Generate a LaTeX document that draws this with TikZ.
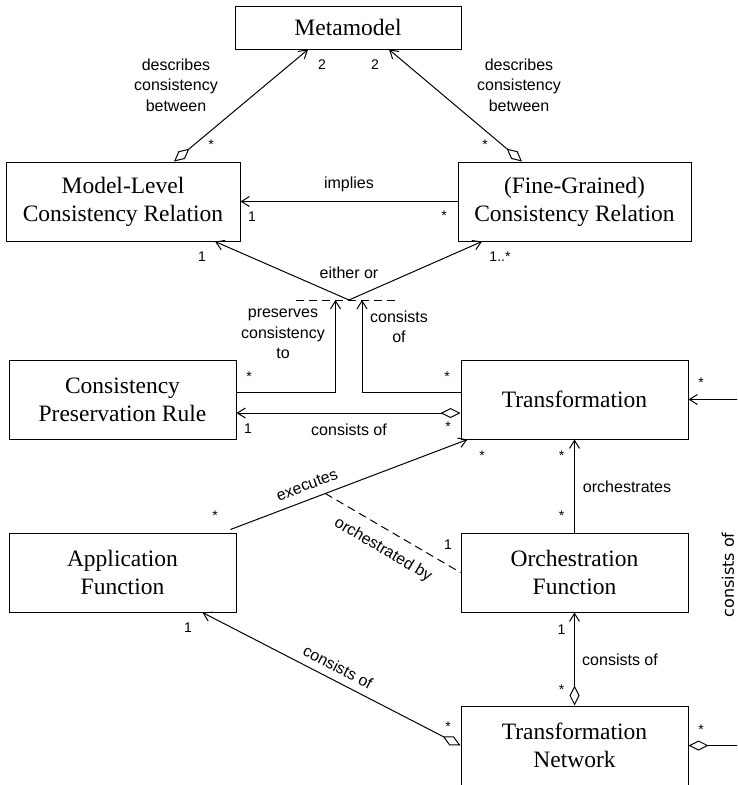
\documentclass[tikz,border=0pt]{standalone}
\usepackage{fontspec}
\newfontfamily\boxfont{Liberation Serif}
\newfontfamily\lblfont{Liberation Sans}
\newfontfamily\sidefont{DejaVu Sans}
\usetikzlibrary{arrows.meta,calc}

\begin{document}
\begin{tikzpicture}[x=1pt,y=-1pt,line width=1pt,
    box/.style={draw,align=center,inner sep=0pt,minimum width=227pt,
      minimum height=79pt,font=\boxfont\fontsize{23.5}{28}\selectfont},
    lbl/.style={align=center,inner sep=0pt,
      font=\lblfont\fontsize{16}{20.5}\selectfont},
    mult/.style={inner sep=0pt,font=\lblfont\fontsize{14}{14}\selectfont},
    star/.style={mult,yshift=-3pt},
    link/.style={-{Straight Barb[length=8pt,width=10pt]}},
    aggl/.style={{Diamond[open,length=20pt,width=10pt]}-{Straight Barb[length=8pt,width=10pt]}},
    orchline/.style={dash pattern=on 8pt off 5pt}]
  \clip (0,0) rectangle (737,785);
  \node[box,minimum width=226pt,minimum height=43pt] (meta) at (348,27.5) {Metamodel};
  \node[box,minimum width=234pt] (mlcr) at (123,201.5) {Model-Level\\Consistency Relation};
  \node[box,minimum width=233pt] (fgcr) at (574.5,201.5) {(Fine-Grained)\\Consistency Relation};
  \node[box] (cpr) at (122.5,399.5) {Consistency\\Preservation Rule};
  \node[box] (trafo) at (574.5,399.5) {Transformation};
  \node[box] (appf) at (122.5,572.5) {Application\\Function};
  \node[box] (orch) at (574.5,572.5) {Orchestration\\Function};
  \node[box] (tnet) at (574.5,745.5) {Transformation\\Network};
  % upper part
  \draw[aggl] ([xshift=51pt]mlcr.north) -- ([xshift=-40pt]meta.south);
  \draw[aggl] ([xshift=-52.5pt]fgcr.north) -- ([xshift=41pt]meta.south);
  \draw[link] (fgcr.west) -- (mlcr.east);
  \coordinate (either) at (349,300);
  \draw[link] (either) -- ([xshift=92pt]mlcr.south);
  \draw[link] (either) -- ([xshift=-92.5pt]fgcr.south);
  \draw[orchline] ($(either)+(-53,0)$) -- ($(either)+(50,0)$);
  \draw[link] ([yshift=7.5pt]cpr.east) -| ($(either)+(-13.5,0)$);
  \draw[link] ([yshift=7.5pt]trafo.west) -| ($(either)+(13,0)$);
  \draw[aggl] ([yshift=-13.5pt]trafo.west) -- ([yshift=-13.5pt]cpr.east);
  % lower part
  \coordinate (outer) at (760,0);
  \draw[aggl] (tnet.east) -- (tnet.east -| outer) -- (trafo.east -| outer) -- (trafo.east);
  \draw[link] ([xshift=-6pt,yshift=3pt]appf.north east) -- coordinate[pos=0.4] (orchpt)
    ([xshift=7pt]trafo.south west);
  \draw[orchline] (orchpt) -- (orch.west);
  \draw[link] (orch.north) -- (trafo.south);
  \draw[aggl] (tnet.north) -- (orch.south);
  \draw[aggl] (tnet.west) -- ([xshift=80pt]appf.south);
  % labels
  \node[lbl] at (176,85) {describes\\consistency\\between};
  \node[lbl] at (519,85) {describes\\consistency\\between};
  \node[lbl] at (349,184) {implies};
  \node[lbl] at (349,273) {either or};
  \node[lbl] at (283,334) {preserves\\consistency\\to};
  \node[lbl] at (399,327) {consists\\of};
  \node[lbl] at (349,430) {consists of};
  \node[lbl,rotate=20.9] at (307,485) {executes};
  \node[lbl,rotate=-30.5] at (383,550) {orchestrated by};
  \node[lbl] at (627,487) {orchestrates};
  \node[lbl] at (620,660) {consists of};
  \node[lbl,rotate=-27.4] at (338,667) {consists of};
  \node[rotate=90,inner sep=0pt,font=\sidefont\fontsize{16}{16}\selectfont] at (728,575) {consists of};
  % multiplicities
  \node[mult] at (322,65) {2};
  \node[mult] at (375,65) {2};
  \node[star] at (211,142) {*};
  \node[star] at (485,142) {*};
  \node[mult] at (252,217) {1};
  \node[star] at (444,213) {*};
  \node[mult] at (202,257) {1};
  \node[mult] at (500,257) {1..*};
  \node[star] at (249,374) {*};
  \node[star] at (447,374) {*};
  \node[mult] at (248,429) {1};
  \node[star] at (448,424) {*};
  \node[star] at (701,380) {*};
  \node[star] at (215,513) {*};
  \node[star] at (482,453) {*};
  \node[star] at (561.5,453) {*};
  \node[star] at (561.5,513) {*};
  \node[mult] at (448,545) {1};
  \node[mult] at (188,628) {1};
  \node[star] at (448,724) {*};
  \node[mult] at (561.5,630) {1};
  \node[star] at (561.5,687) {*};
  \node[star] at (701,727) {*};
\end{tikzpicture}
\end{document}
